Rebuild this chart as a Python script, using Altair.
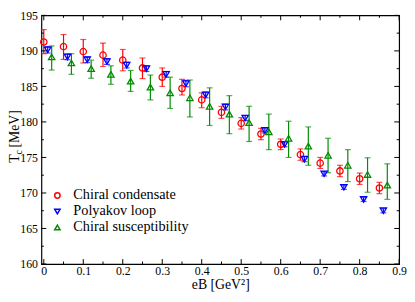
import altair as alt
import pandas as pd

series_names = ["Chiral condensate", "Polyakov loop", "Chiral susceptibility"]
series_colors = ["#ff0000", "#0000ff", "#008b00"]

# Chiral condensate (red circles)
cond_eB = [0.00, 0.05, 0.10, 0.15, 0.20, 0.25, 0.30, 0.35, 0.40, 0.45, 0.50, 0.55, 0.60, 0.65, 0.70, 0.75, 0.80, 0.85]
cond_T = [191.25, 190.6, 189.9, 189.4, 188.7, 187.6, 186.3, 184.7, 183.1, 181.35, 179.8, 178.3, 176.85, 175.4, 174.2, 173.1, 172.0, 170.7]
cond_lo = [189.6, 188.8, 188.3, 187.8, 187.2, 186.1, 185.0, 183.8, 182.0, 180.5, 179.0, 177.5, 176.1, 174.6, 173.45, 172.3, 171.2, 169.9]
cond_hi = [193.0, 192.3, 191.6, 191.1, 190.2, 189.0, 187.6, 186.0, 184.1, 182.2, 180.6, 179.1, 177.6, 176.2, 175.0, 173.9, 172.8, 171.5]

# Polyakov loop (blue down triangles)
poly_eB = [0.01, 0.06, 0.11, 0.16, 0.21, 0.26, 0.31, 0.36, 0.41, 0.46, 0.51, 0.56, 0.61, 0.66, 0.71, 0.76, 0.81, 0.86]
poly_T = [190.15, 189.15, 188.75, 188.5, 188.0, 187.5, 186.7, 185.4, 183.8, 182.1, 180.55, 178.8, 176.85, 174.75, 172.7, 170.8, 169.1, 167.5]
poly_err = [0.45, 0.4, 0.4, 0.4, 0.4, 0.4, 0.4, 0.45, 0.4, 0.4, 0.35, 0.35, 0.35, 0.35, 0.3, 0.3, 0.3, 0.3]

# Chiral susceptibility (green up triangles)
susc_eB = [0.02, 0.07, 0.12, 0.17, 0.22, 0.27, 0.32, 0.37, 0.42, 0.47, 0.52, 0.57, 0.62, 0.67, 0.72, 0.77, 0.82, 0.87]
susc_T = [189.15, 188.3, 187.5, 186.7, 185.75, 184.9, 184.1, 183.4, 182.2, 181.1, 179.9, 178.6, 177.7, 176.6, 175.3, 173.9, 172.6, 171.1]
susc_lo = [187.3, 186.7, 186.15, 185.3, 184.3, 183.1, 181.9, 180.7, 179.5, 178.35, 177.25, 176.1, 175.0, 173.9, 172.85, 171.6, 170.1, 169.1]
susc_hi = [190.7, 189.6, 188.7, 187.9, 187.25, 186.6, 186.3, 185.9, 184.8, 183.7, 182.2, 181.1, 180.1, 179.3, 177.7, 176.1, 174.95, 174.1]

x_major = [0.0, 0.1, 0.2, 0.3, 0.4, 0.5, 0.6, 0.7, 0.8, 0.9]
x_minor = [0.05, 0.15, 0.25, 0.35, 0.45, 0.55, 0.65, 0.75, 0.85]
y_major = [160, 165, 170, 175, 180, 185, 190, 195]
y_minor = [162.5, 167.5, 172.5, 177.5, 182.5, 187.5, 192.5]

rows = []
for x, t, lo, hi in zip(cond_eB, cond_T, cond_lo, cond_hi):
    rows.append({"series": series_names[0], "eB": x, "T": t, "lo": lo, "hi": hi})
for x, t, e in zip(poly_eB, poly_T, poly_err):
    rows.append({"series": series_names[1], "eB": x, "T": t, "lo": t - e, "hi": t + e})
for x, t, lo, hi in zip(susc_eB, susc_T, susc_lo, susc_hi):
    rows.append({"series": series_names[2], "eB": x, "T": t, "lo": lo, "hi": hi})
df = pd.DataFrame(rows)

W, H = 364, 253
FONT = "Liberation Serif"

xs = alt.Scale(domain=[-0.006, 0.9], nice=False, zero=False)
ys = alt.Scale(domain=[160, 195], nice=False, zero=False)
cscale = alt.Scale(domain=series_names, range=series_colors)
sscale = alt.Scale(domain=series_names, range=["circle", "triangle-down", "triangle-up"])

x_axis = alt.Axis(values=x_major, labelExpr="datum.value == 0 ? '0' : format(datum.value, '.1f')",
                  ticks=False, domain=False, grid=False, labelFont=FONT, labelFontSize=12,
                  labelColor="black", labelPadding=2, labelFlush=False, labelOverlap=False,
                  title="eB [GeV²]", titleFont=FONT, titleFontSize=14, titleFontWeight="normal",
                  titleColor="black", titleBaseline="alphabetic", titleY=25)
y_axis = alt.Axis(values=y_major, ticks=False, domain=False, grid=False, labelFont=FONT,
                  labelFontSize=12, labelColor="black", labelPadding=4, labelFlush=False,
                  labelOverlap=False, title=None)


def X(field):
    return alt.X(field, type="quantitative", scale=xs, axis=x_axis)


def Y(field):
    return alt.Y(field, type="quantitative", scale=ys, axis=y_axis)


base = alt.Chart(df)

err_layers = []
for name, col in zip(series_names, series_colors):
    sub = base.transform_filter(alt.datum.series == name)
    err_layers.append(sub.mark_rule(strokeWidth=1.2, color=col).encode(x=X("eB"), y=Y("lo"), y2="hi:Q"))
    err_layers.append(sub.mark_tick(orient="horizontal", size=6, thickness=1.2, color=col).encode(x=X("eB"), y=Y("lo")))
    err_layers.append(sub.mark_tick(orient="horizontal", size=6, thickness=1.2, color=col).encode(x=X("eB"), y=Y("hi")))

leg = alt.Legend(title=None, orient="none", legendX=9, legendY=176, labelFont=FONT,
                 labelFontSize=14.5, labelColor="black", symbolSize=30, symbolStrokeWidth=1.5,
                 labelOffset=9, rowPadding=1.3)
points = base.mark_point(filled=False, size=42, strokeWidth=1.3, opacity=1).encode(
    x=X("eB"), y=Y("T"),
    color=alt.Color("series:N", scale=cscale, legend=leg),
    shape=alt.Shape("series:N", scale=sscale, legend=leg),
)

# inner tick marks on all four sides
xmaj = alt.Chart(pd.DataFrame({"v": x_major}))
xmin = alt.Chart(pd.DataFrame({"v": x_minor}))
ymaj = alt.Chart(pd.DataFrame({"v": y_major}))
ymin = alt.Chart(pd.DataFrame({"v": y_minor}))
tk = dict(color="black", strokeWidth=1)
ticks = [
    xmaj.mark_rule(**tk).encode(x=X("v"), y=alt.value(H), y2=alt.value(H - 5)),
    xmaj.mark_rule(**tk).encode(x=X("v"), y=alt.value(0), y2=alt.value(5)),
    xmin.mark_rule(**tk).encode(x=X("v"), y=alt.value(H), y2=alt.value(H - 2.5)),
    xmin.mark_rule(**tk).encode(x=X("v"), y=alt.value(0), y2=alt.value(2.5)),
    ymaj.mark_rule(**tk).encode(y=Y("v"), x=alt.value(0), x2=alt.value(5)),
    ymaj.mark_rule(**tk).encode(y=Y("v"), x=alt.value(W), x2=alt.value(W - 5)),
    ymin.mark_rule(**tk).encode(y=Y("v"), x=alt.value(0), x2=alt.value(2.5)),
    ymin.mark_rule(**tk).encode(y=Y("v"), x=alt.value(W), x2=alt.value(W - 2.5)),
]

# y axis title  T_c [MeV]  (with subscript)
YB = -22.5
ytitle_T = alt.Chart(pd.DataFrame({"t": ["T"]})).mark_text(
    angle=270, align="left", baseline="alphabetic", font=FONT, fontSize=14, color="black"
).encode(text="t:N", x=alt.value(YB), y=alt.value(150))
ytitle_c = alt.Chart(pd.DataFrame({"t": ["c"]})).mark_text(
    angle=270, align="left", baseline="alphabetic", font=FONT, fontSize=10, color="black"
).encode(text="t:N", x=alt.value(YB + 3), y=alt.value(141.5))
ytitle_u = alt.Chart(pd.DataFrame({"t": ["[MeV]"]})).mark_text(
    angle=270, align="left", baseline="alphabetic", font=FONT, fontSize=14, color="black"
).encode(text="t:N", x=alt.value(YB), y=alt.value(134.5))

chart = alt.layer(
    *err_layers, points, *ticks, ytitle_T, ytitle_c, ytitle_u
).properties(
    width=W, height=H,
    autosize=alt.AutoSizeParams(type="none"),
    padding={"left": 34, "top": 5, "right": 8, "bottom": 27},
    background="white",
).configure(font=FONT).configure_view(stroke="black", strokeWidth=1.2)

chart.save("out.html", embed_options={"renderer": "svg", "actions": False})
